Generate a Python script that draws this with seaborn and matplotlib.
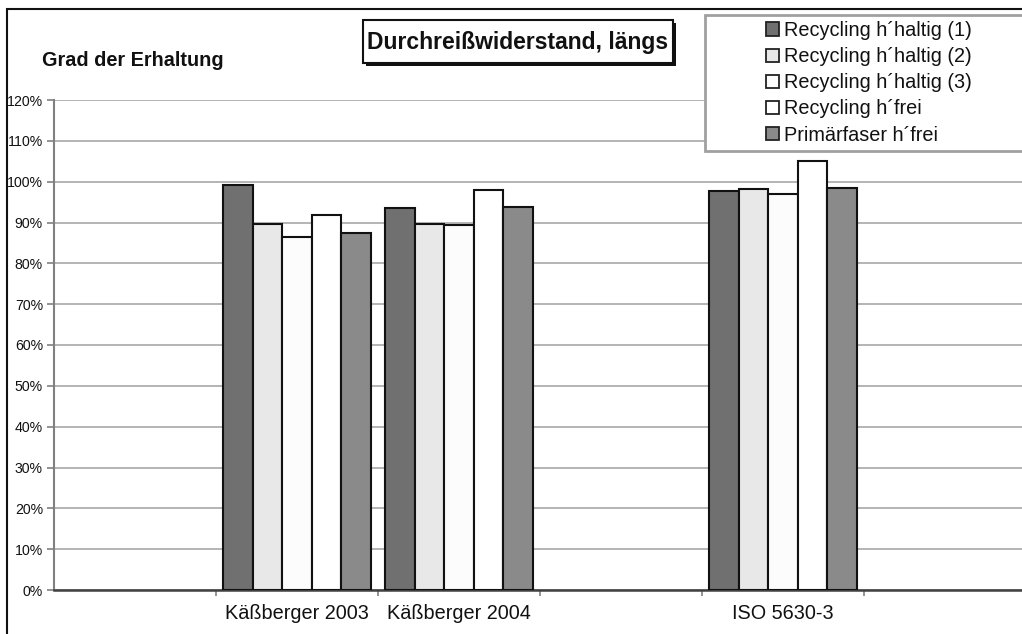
import matplotlib
matplotlib.use("Agg")
import matplotlib.pyplot as plt
from matplotlib.patches import Rectangle, Patch
from matplotlib.ticker import FixedLocator, PercentFormatter
import seaborn as sns
import pandas as pd

# ---- data ----
categories = ["", "Käßberger 2003", "Käßberger 2004", " ", "ISO 5630-3", "  "]
data_categories = ["Käßberger 2003", "Käßberger 2004", "ISO 5630-3"]
series = ["Recycling h´haltig (1)", "Recycling h´haltig (2)", "Recycling h´haltig (3)",
          "Recycling h´frei", "Primärfaser h´frei"]
values_rh1 = [99.2, 93.5, 97.6]
values_rh2 = [89.7, 89.6, 98.1]
values_rh3 = [86.5, 89.3, 97.0]
values_rf = [91.8, 98.0, 105.1]
values_pf = [87.4, 93.9, 98.5]
y_ticks = [0, 10, 20, 30, 40, 50, 60, 70, 80, 90, 100, 110, 120]

colors = ["#707070", "#e8e8e8", "#fcfcfc", "#ffffff", "#8a8a8a"]

rows = []
for s, vals in zip(series, [values_rh1, values_rh2, values_rh3, values_rf, values_pf]):
    for c, v in zip(data_categories, vals):
        rows.append({"cat": c, "series": s, "value": v})
df = pd.DataFrame(rows)

sns.set_theme(style="white")
plt.rcParams["font.family"] = ["Liberation Sans", "DejaVu Sans"]

W, H = 1022, 634
fig = plt.figure(figsize=(W / 100, H / 100), dpi=100)
ax = fig.add_axes([54 / W, 1 - 590 / H, (1026 - 54) / W, (590 - 100) / H])

sns.barplot(data=df, x="cat", y="value", hue="series", order=categories,
            hue_order=series, palette=colors, width=0.915, gap=0,
            edgecolor="#111111", linewidth=1.5, legend=False, ax=ax, zorder=3)

ax.set_ylim(0, 120)
ax.set_xlim(-0.5, len(categories) - 0.5)
ax.yaxis.set_major_locator(FixedLocator(y_ticks))
ax.yaxis.set_major_formatter(PercentFormatter(decimals=0))
ax.yaxis.grid(True, color="#a8a8a8", linewidth=1.2, zorder=0)
ax.set_axisbelow(True)
ax.set_xlabel("")
ax.set_ylabel("")

for s in ["top", "right"]:
    ax.spines[s].set_visible(False)
ax.spines["left"].set_color("#808080")
ax.spines["left"].set_linewidth(1.5)
ax.spines["bottom"].set_color("#404040")
ax.spines["bottom"].set_linewidth(1.8)

ax.tick_params(axis="y", which="major", length=5, width=1.2, color="#808080",
               labelsize=10.2, pad=3, labelcolor="#111111", left=True, direction="out")
ax.set_xticks(range(len(categories)))
ax.set_xticklabels(categories)
ax.tick_params(axis="x", which="major", length=0, labelsize=14.3, pad=10, labelcolor="#111111")
ax.set_xticks([i - 0.5 for i in range(1, len(categories))], minor=True)
ax.tick_params(axis="x", which="minor", length=4, width=1.2, color="#808080",
               bottom=True, direction="out")

# outer chart frame
fig.patches.append(Rectangle((7 / W, -0.1), 1.2, 1 - 9 / H + 0.1, transform=fig.transFigure,
                             fill=False, edgecolor="#111111", linewidth=1.5))

# y-axis title
fig.text(42 / W, 1 - 60 / H, "Grad der Erhaltung", fontsize=14.3, fontweight="bold",
         ha="left", va="center", color="#111111")

# title with shadowed box
fig.patches.append(Rectangle((366 / W, 1 - 66 / H), (673 - 363) / W, (63 - 20) / H,
                             transform=fig.transFigure, facecolor="#111111",
                             edgecolor="none", zorder=1))
fig.patches.append(Rectangle((363 / W, 1 - 63 / H), (673 - 363) / W, (63 - 20) / H,
                             transform=fig.transFigure, facecolor="white",
                             edgecolor="#111111", linewidth=1.5, zorder=2))
fig.text(518 / W, 1 - 42 / H, "Durchreißwiderstand, längs", fontsize=16.5, fontweight="bold",
         ha="center", va="center", color="#111111", zorder=3)

# legend box
fig.patches.append(Rectangle((705 / W, 1 - 151 / H), 0.4, (151 - 15) / H,
                             transform=fig.transFigure, facecolor="white",
                             edgecolor="#a0a0a0", linewidth=2, zorder=5))
handles = [Patch(facecolor=c, edgecolor="#222222", linewidth=1.3) for c in colors]
leg = fig.legend(handles, series, loc="upper left", bbox_to_anchor=(766 / W, 1 - 21 / H),
                 frameon=False, fontsize=14.3, handlelength=0.65, handleheight=0.65,
                 handletextpad=0.25, labelspacing=0.36, borderpad=0, borderaxespad=0)
leg.set_zorder(6)
for t in leg.get_texts():
    t.set_color("#111111")

fig.savefig("out.png", dpi=100)
